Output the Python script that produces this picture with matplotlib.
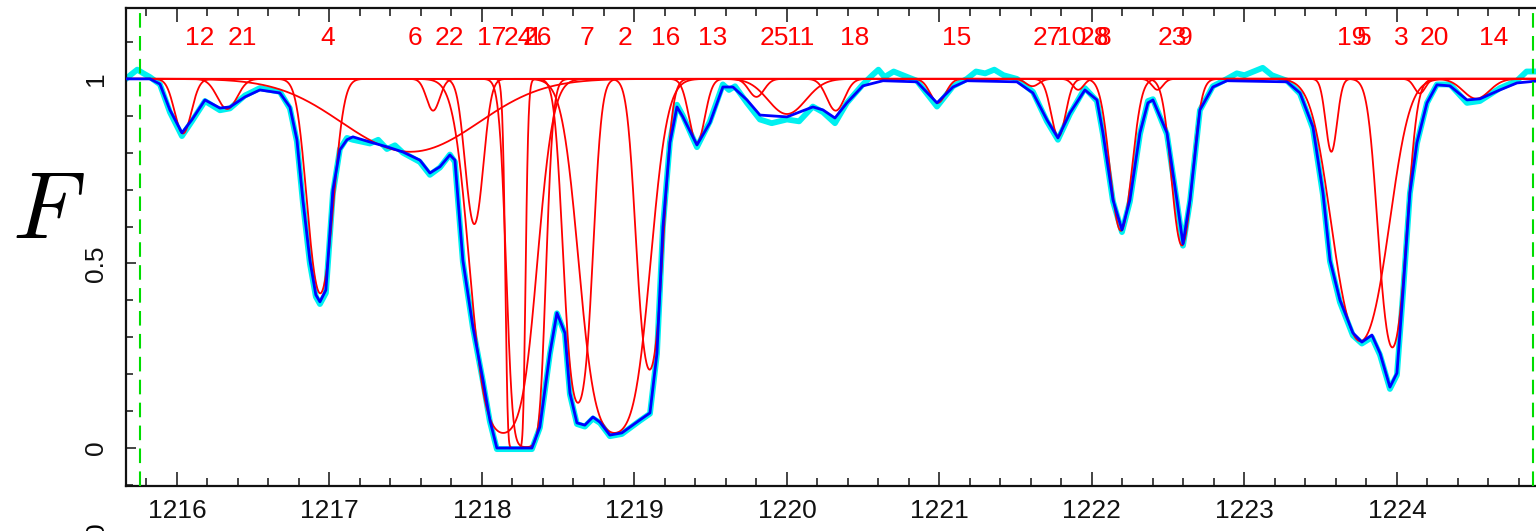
import numpy as np
import matplotlib.pyplot as plt
from matplotlib.ticker import MultipleLocator

plt.rcParams['font.family'] = ['Liberation Sans', 'DejaVu Sans']
plt.rcParams['mathtext.fontset'] = 'cm'

# total fitted model (blue)
wave_model = [
    1215.666, 1215.823, 1215.889, 1215.954, 1216.033, 1216.098, 1216.184, 1216.282, 1216.348, 1216.446,
    1216.544, 1216.675, 1216.741, 1216.787, 1216.826, 1216.872, 1216.911, 1216.938, 1216.977, 1217.023,
    1217.069, 1217.115, 1217.154, 1217.266, 1217.377, 1217.482, 1217.593, 1217.659, 1217.725, 1217.790,
    1217.823, 1217.875, 1217.941, 1218.007, 1218.052, 1218.098, 1218.328, 1218.380, 1218.446, 1218.492,
    1218.544, 1218.577, 1218.623, 1218.675, 1218.728, 1218.774, 1218.839, 1218.918, 1219.036, 1219.102,
    1219.148, 1219.187, 1219.233, 1219.279, 1219.318, 1219.410, 1219.495, 1219.580, 1219.646, 1219.738,
    1219.823, 1220.000, 1220.170, 1220.236, 1220.315, 1220.393, 1220.498, 1220.630, 1220.852, 1220.984,
    1221.089, 1221.180, 1221.508, 1221.613, 1221.705, 1221.777, 1221.856, 1221.954, 1222.033, 1222.072,
    1222.138, 1222.197, 1222.249, 1222.315, 1222.367, 1222.400, 1222.492, 1222.557, 1222.597, 1222.643,
    1222.708, 1222.793, 1222.885, 1223.279, 1223.364, 1223.449, 1223.515, 1223.561, 1223.626, 1223.711,
    1223.770, 1223.836, 1223.889, 1223.954, 1224.000, 1224.039, 1224.085, 1224.131, 1224.197, 1224.262,
    1224.348, 1224.459, 1224.544, 1224.675, 1224.787, 1224.938,
]
flux_model = [
    1.0, 1.0, 0.986, 0.916, 0.854, 0.889, 0.943, 0.921, 0.924, 0.951,
    0.970, 0.962, 0.924, 0.835, 0.672, 0.509, 0.415, 0.396, 0.428, 0.699,
    0.808, 0.835, 0.843, 0.829, 0.816, 0.802, 0.780, 0.745, 0.762, 0.794,
    0.780, 0.509, 0.328, 0.184, 0.076, 0.0, 0.0, 0.057, 0.257, 0.366,
    0.312, 0.149, 0.068, 0.062, 0.084, 0.070, 0.035, 0.041, 0.076, 0.095,
    0.257, 0.599, 0.827, 0.924, 0.897, 0.821, 0.881, 0.978, 0.978, 0.943,
    0.902, 0.897, 0.924, 0.916, 0.894, 0.935, 0.981, 0.995, 0.992, 0.935,
    0.978, 0.995, 0.992, 0.962, 0.889, 0.840, 0.908, 0.970, 0.943, 0.854,
    0.672, 0.591, 0.672, 0.854, 0.935, 0.943, 0.854, 0.672, 0.553, 0.672,
    0.916, 0.978, 0.995, 0.992, 0.962, 0.870, 0.691, 0.509, 0.401, 0.312,
    0.287, 0.306, 0.257, 0.165, 0.203, 0.420, 0.691, 0.827, 0.935, 0.984,
    0.981, 0.943, 0.946, 0.970, 0.989, 0.995,
]

# observed spectrum (cyan)
wave_data = [
    1215.666, 1215.700, 1215.740, 1215.780, 1215.823, 1215.889, 1215.954, 1216.033, 1216.098, 1216.184,
    1216.282, 1216.348, 1216.446, 1216.544, 1216.675, 1216.741, 1216.787, 1216.826, 1216.872, 1216.911,
    1216.938, 1216.977, 1217.023, 1217.069, 1217.115, 1217.154, 1217.210, 1217.266, 1217.320, 1217.377,
    1217.430, 1217.482, 1217.593, 1217.659, 1217.725, 1217.790, 1217.823, 1217.875, 1217.941, 1218.007,
    1218.052, 1218.098, 1218.328, 1218.380, 1218.446, 1218.492, 1218.544, 1218.577, 1218.623, 1218.675,
    1218.728, 1218.774, 1218.839, 1218.918, 1219.036, 1219.102, 1219.148, 1219.187, 1219.233, 1219.279,
    1219.318, 1219.410, 1219.495, 1219.580, 1219.620, 1219.660, 1219.738, 1219.823, 1219.900, 1220.000,
    1220.080, 1220.170, 1220.236, 1220.315, 1220.393, 1220.498, 1220.560, 1220.600, 1220.640, 1220.700,
    1220.760, 1220.852, 1220.984, 1221.089, 1221.180, 1221.240, 1221.300, 1221.360, 1221.420, 1221.508,
    1221.613, 1221.705, 1221.777, 1221.856, 1221.954, 1222.033, 1222.072, 1222.138, 1222.197, 1222.249,
    1222.315, 1222.367, 1222.400, 1222.492, 1222.557, 1222.597, 1222.643, 1222.708, 1222.793, 1222.885,
    1222.950, 1223.000, 1223.060, 1223.120, 1223.180, 1223.279, 1223.364, 1223.449, 1223.515, 1223.561,
    1223.626, 1223.711, 1223.770, 1223.836, 1223.889, 1223.954, 1224.000, 1224.039, 1224.085, 1224.131,
    1224.197, 1224.262, 1224.348, 1224.459, 1224.544, 1224.675, 1224.787, 1224.850, 1224.938,
]
flux_data = [
    1.0, 1.012, 1.025, 1.015, 1.005, 0.985, 0.91, 0.845, 0.885, 0.94,
    0.915, 0.92, 0.955, 0.975, 0.965, 0.92, 0.83, 0.665, 0.50, 0.41,
    0.39, 0.42, 0.69, 0.81, 0.84, 0.835, 0.83, 0.825, 0.835, 0.81,
    0.82, 0.80, 0.775, 0.74, 0.76, 0.795, 0.775, 0.505, 0.325, 0.18,
    0.072, -0.003, -0.003, 0.055, 0.255, 0.365, 0.31, 0.145, 0.065, 0.058,
    0.08, 0.068, 0.032, 0.038, 0.074, 0.093, 0.255, 0.60, 0.83, 0.93,
    0.90, 0.815, 0.885, 0.985, 0.97, 0.98, 0.935, 0.89, 0.88, 0.89,
    0.885, 0.925, 0.91, 0.88, 0.935, 0.985, 1.01, 1.025, 1.005, 1.02,
    1.01, 0.995, 0.925, 0.98, 1.0, 1.02, 1.015, 1.025, 1.01, 1.0,
    0.965, 0.885, 0.835, 0.905, 0.975, 0.94, 0.85, 0.668, 0.585, 0.668,
    0.85, 0.94, 0.945, 0.85, 0.668, 0.548, 0.668, 0.915, 0.98, 1.0,
    1.015, 1.01, 1.02, 1.03, 1.01, 0.995, 0.96, 0.865, 0.685, 0.505,
    0.395, 0.305, 0.283, 0.30, 0.252, 0.16, 0.198, 0.415, 0.69, 0.825,
    0.935, 0.985, 0.985, 0.935, 0.94, 0.975, 0.995, 1.02, 1.02,
]

# individual absorption components (red): centre, central optical depth, width
comp_labels = ['12', '21', '4', '6', '22', '17', '24', '1', '26', '7', '2', '16', '13', '25',
               '11', '18', '15', '27', '10', '28', '8', '23', '9', '19', '5', '3', '20', '14']
comp_centre = [1216.04, 1216.33, 1216.94, 1217.53, 1217.68, 1217.95, 1218.14, 1218.22, 1218.29,
               1218.63, 1218.87, 1219.10, 1219.41, 1219.80, 1220.00, 1220.32, 1220.99, 1221.61,
               1221.78, 1221.91, 1222.19, 1222.43, 1222.59, 1223.57, 1223.76, 1223.97, 1224.15,
               1224.52]
comp_tau = [0.16, 0.085, 0.87, 0.22, 0.09, 0.50, 3.2, 12.0, 6.0,
            2.1, 3.2, 1.55, 0.19, 0.05, 0.10, 0.09, 0.067, 0.02,
            0.17, 0.03, 0.53, 0.03, 0.60, 0.22, 1.24, 1.30, 0.04,
            0.055]
comp_width = [0.075, 0.09, 0.10, 0.60, 0.06, 0.075, 0.18, 0.04, 0.09,
              0.09, 0.19, 0.09, 0.07, 0.07, 0.17, 0.08, 0.07, 0.06,
              0.065, 0.05, 0.09, 0.05, 0.085, 0.05, 0.20, 0.10, 0.05,
              0.12]
# where each number is written along the top
label_wave = [1216.05, 1216.33, 1216.94, 1217.51, 1217.69, 1217.97, 1218.14, 1218.30, 1218.27,
              1218.64, 1218.89, 1219.11, 1219.42, 1219.82, 1220.00, 1220.35, 1221.02, 1221.61,
              1221.77, 1221.92, 1222.03, 1222.43, 1222.56, 1223.61, 1223.74, 1223.98, 1224.15,
              1224.54]

fit_edges = [1215.757, 1224.892]

xmin, xmax = 1215.666, 1224.938

fig = plt.figure(figsize=(15.36, 5.31), dpi=100)
ax = fig.add_axes([0.0820, 0.0847, 0.9206, 0.9002])

ax.plot(wave_data, flux_data, color='#00f0f0', lw=4.2, zorder=2)

wl = np.linspace(xmin, xmax, 4000)
for c, tau, b in zip(comp_centre, comp_tau, comp_width):
    prof = np.exp(-tau * np.exp(-((wl - c) / b) ** 2))
    ax.plot(wl, prof, color='#ff0000', lw=1.3, zorder=3)

ax.plot(wave_model, flux_model, color='#0000ff', lw=2.0, zorder=4)

for x in fit_edges:
    ax.axvline(x, color='#00dd00', lw=1.5, dashes=(7, 4), zorder=5)

for lab, x in zip(comp_labels, label_wave):
    ax.text(x, 1.112, lab, color='#ff0000', fontsize=19, ha='left', va='center', zorder=6)

ax.set_xlim(xmin, xmax)
ax.set_ylim(-0.103, 1.192)
ax.xaxis.set_major_locator(MultipleLocator(1))
ax.xaxis.set_minor_locator(MultipleLocator(0.2))
ax.set_yticks([0, 0.5, 1])
ax.set_yticklabels(['0', '0.5', '1'], rotation=90, va='center')
ax.yaxis.set_minor_locator(MultipleLocator(0.1))

ax.tick_params(which='both', direction='in', top=True, right=False, width=1.1, colors='#111111')
ax.tick_params(axis='x', which='major', length=10, pad=9, labelsize=19)
ax.tick_params(axis='x', which='minor', length=6)
ax.tick_params(axis='y', which='major', length=7, pad=13, labelsize=19)
ax.tick_params(axis='y', which='minor', length=5)
for sp in ax.spines.values():
    sp.set_linewidth(1.6)
    sp.set_color('#111111')

fig.text(48 / 1536, 1 - 214 / 531, r'$F$', fontsize=68, ha='center', va='center')
# tick label of the panel below, cut by the figure edge
fig.text(97 / 1536, 9 / 531, '0', rotation=90, fontsize=19, ha='center', va='top')

fig.savefig('out.png', dpi=100)
